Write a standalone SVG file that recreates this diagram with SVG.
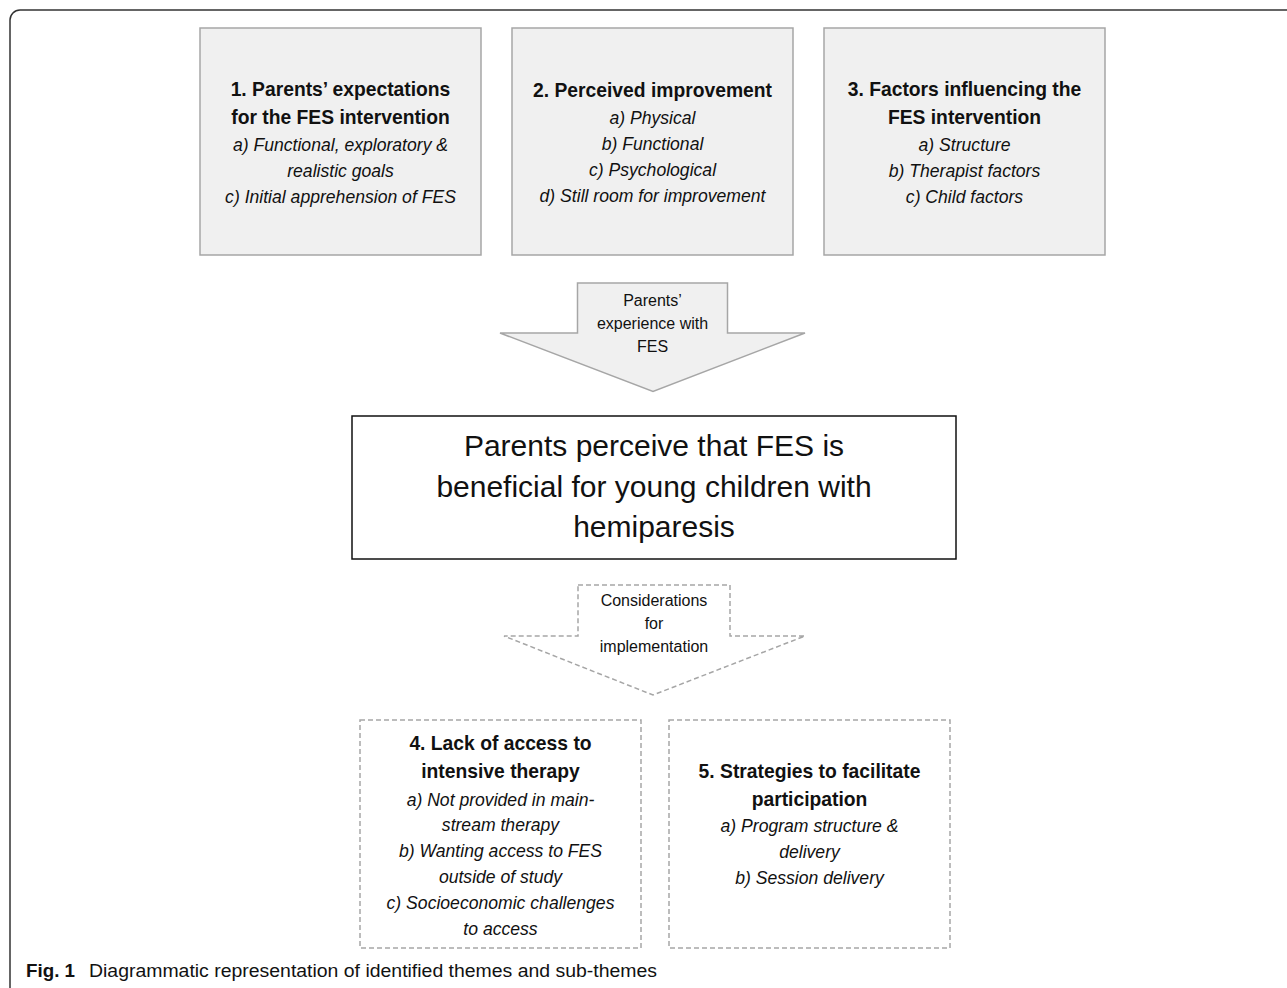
<svg xmlns="http://www.w3.org/2000/svg" width="1287" height="988" viewBox="0 0 1287 988">
<style>
text{font-family:"Liberation Sans",Arial,sans-serif;fill:#111;text-anchor:middle}
.t{font-weight:bold;font-size:19.3px}
.s{font-style:italic;font-size:17.6px}
.a{font-size:16px}
.m{font-size:30px}
.gb{fill:#f0f0f0;stroke:#a6a6a6;stroke-width:1.5}
.db{fill:#fff;stroke:#a6a6a6;stroke-width:1.5;stroke-dasharray:5 3}
.cap{text-anchor:start;font-size:17.5px}
</style>
<rect width="1287" height="988" fill="#fff"/>
<path d="M10 988 V20 A10 10 0 0 1 20 10 H1287" fill="none" stroke="#333" stroke-width="1.5"/>
<g id="theme1">
<rect class="gb" x="200" y="28" width="281" height="227"/>
<text class="t" x="340.5" y="96">1. Parents’ expectations</text>
<text class="t" x="340.5" y="124">for the FES intervention</text>
<text class="s" x="340.5" y="151">a) Functional, exploratory &amp;</text>
<text class="s" x="340.5" y="177">realistic goals</text>
<text class="s" x="340.5" y="203">c) Initial apprehension of FES</text>
</g>
<g id="theme2">
<rect class="gb" x="512" y="28" width="281" height="227"/>
<text class="t" x="652.5" y="97">2. Perceived improvement</text>
<text class="s" x="652.5" y="124">a) Physical</text>
<text class="s" x="652.5" y="150">b) Functional</text>
<text class="s" x="652.5" y="176">c) Psychological</text>
<text class="s" x="652.5" y="202">d) Still room for improvement</text>
</g>
<g id="theme3">
<rect class="gb" x="824" y="28" width="281" height="227"/>
<text class="t" x="964.5" y="96">3. Factors influencing the</text>
<text class="t" x="964.5" y="124">FES intervention</text>
<text class="s" x="964.5" y="151">a) Structure</text>
<text class="s" x="964.5" y="177">b) Therapist factors</text>
<text class="s" x="964.5" y="203">c) Child factors</text>
</g>
<g id="connectors">
<g id="arrow-experience">
<path d="M577.5 283 H727.5 V333 H805 L653 391.5 L500 333 H577.5 Z" fill="#f0f0f0" stroke="#a6a6a6" stroke-width="1.5"/>
<text class="a" x="652.5" y="306">Parents’</text>
<text class="a" x="652.5" y="329">experience with</text>
<text class="a" x="652.5" y="352">FES</text>
</g>
<g id="arrow-considerations">
<path d="M578 585 H730 V636 H805 L653 695 L504 636 H578 Z" fill="#fff" stroke="#a6a6a6" stroke-width="1.5" stroke-dasharray="5 3"/>
<text class="a" x="654" y="606">Considerations</text>
<text class="a" x="654" y="629">for</text>
<text class="a" x="654" y="652">implementation</text>
</g>
</g>
<g id="central">
<rect x="352" y="416" width="604" height="143" fill="#fff" stroke="#111" stroke-width="1.5"/>
<text class="m" x="654" y="456">Parents perceive that FES is</text>
<text class="m" x="654" y="497">beneficial for young children with</text>
<text class="m" x="654" y="537">hemiparesis</text>
</g>
<g id="theme4">
<rect class="db" x="360" y="720" width="281" height="228"/>
<text class="t" x="500.5" y="750">4. Lack of access to</text>
<text class="t" x="500.5" y="778">intensive therapy</text>
<text class="s" x="500.5" y="806">a) Not provided in main-</text>
<text class="s" x="500.5" y="831">stream therapy</text>
<text class="s" x="500.5" y="857">b) Wanting access to FES</text>
<text class="s" x="500.5" y="883">outside of study</text>
<text class="s" x="500.5" y="909">c) Socioeconomic challenges</text>
<text class="s" x="500.5" y="935">to access</text>
</g>
<g id="theme5">
<rect class="db" x="669" y="720" width="281" height="228"/>
<text class="t" x="809.5" y="778">5. Strategies to facilitate</text>
<text class="t" x="809.5" y="806">participation</text>
<text class="s" x="809.5" y="832">a) Program structure &amp;</text>
<text class="s" x="809.5" y="858">delivery</text>
<text class="s" x="809.5" y="884">b) Session delivery</text>
</g>
<g id="caption">
<text class="cap" x="26" y="977" font-weight="bold" textLength="49" lengthAdjust="spacingAndGlyphs">Fig. 1</text>
<text class="cap" x="89" y="977" textLength="568" lengthAdjust="spacingAndGlyphs">Diagrammatic representation of identified themes and sub-themes</text>
</g>
</svg>
